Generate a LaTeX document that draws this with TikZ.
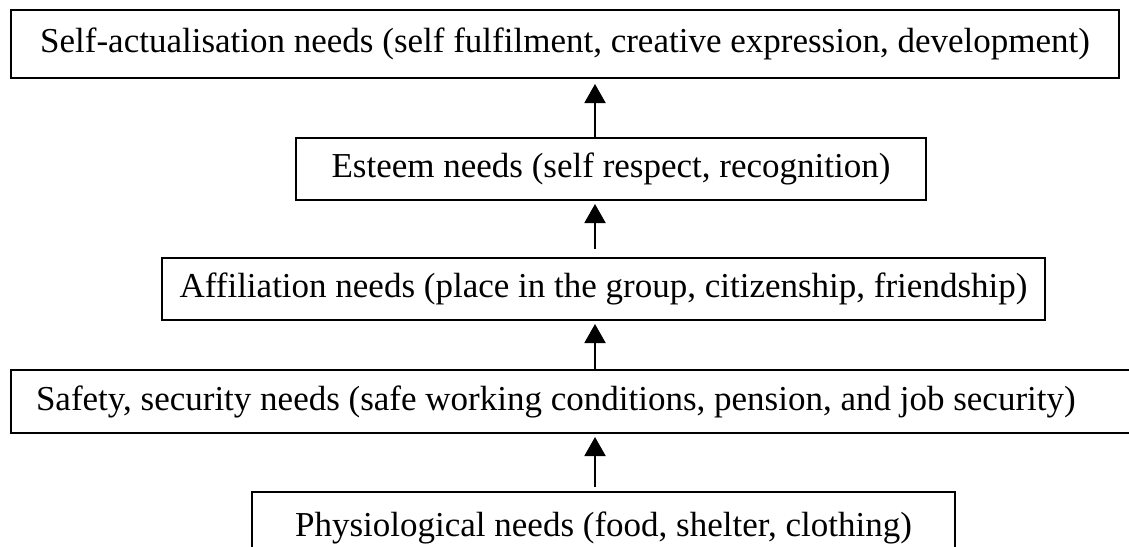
\documentclass[tikz,border=0pt]{standalone}
\usepackage{fontspec}
\setmainfont{Liberation Serif}
\usetikzlibrary{arrows.meta}
\tikzset{
	needbox/.style={draw, line width=1pt, anchor=north west, inner xsep=0pt, inner ysep=0pt, font=\fontsize{17.5}{21}\selectfont},
	uparrow/.style={line width=1pt, -{Triangle[length=9.5pt,width=10.5pt]}},
}

\begin{document}
\begin{tikzpicture}[x=0.5pt,y=-0.5pt]
		%%%%% START %%%%%
		\useasboundingbox (0,0) rectangle (1129,546);
		\clip (0,0) rectangle (1129,546);
		
		\node[needbox, minimum width=554pt, minimum height=34pt] (selfact) at (10,9) {Self-actualisation needs (self fulfilment, creative expression, development)};
		\node[needbox, minimum width=315pt, minimum height=31pt] (esteem) at (295,137) {Esteem needs (self respect, recognition)};
		\node[needbox, minimum width=441.5pt, minimum height=31pt] (affil) at (161,257) {Affiliation needs (place in the group, citizenship, friendship)};
		\node[needbox, minimum height=31.5pt, inner xsep=12.5pt] (safety) at (10,369) {\makebox[545pt][l]{Safety, security needs (safe working conditions, pension, and job security)}};
		\node[needbox, minimum width=351.5pt, minimum height=36pt] (physio) at (251,491) {Physiological needs (food, shelter, clothing)};
		
		\coordinate (axis) at (595,0);
		\draw[uparrow, shorten >=2.5pt] (esteem.north -| axis) -- (selfact.south -| axis);
		\draw[uparrow, shorten <=4pt, shorten >=1.5pt] (affil.north -| axis) -- (esteem.south -| axis);
		\draw[uparrow, shorten >=1.5pt] (safety.north -| axis) -- (affil.south -| axis);
		\draw[uparrow, shorten <=2pt, shorten >=1.5pt] (physio.north -| axis) -- (safety.south -| axis);
		%%%%% END %%%%%
\end{tikzpicture}
\end{document}
